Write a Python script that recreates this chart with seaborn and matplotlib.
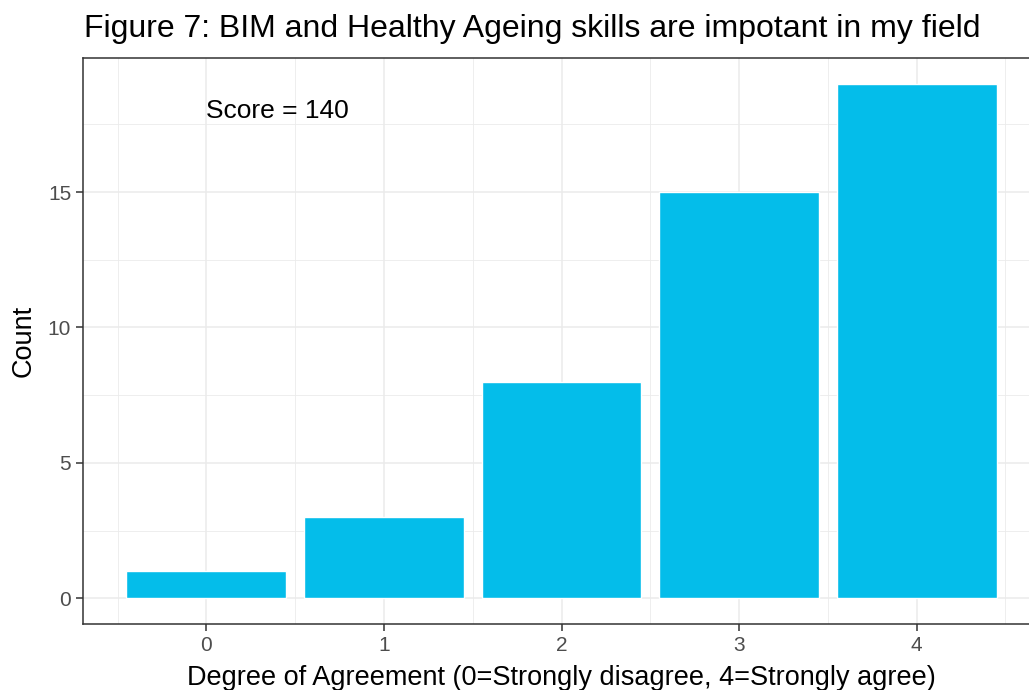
import matplotlib
matplotlib.use("Agg")
import matplotlib.pyplot as plt
import seaborn as sns
from matplotlib.ticker import MultipleLocator

# Dados
graus = [0, 1, 2, 3, 4]
contagens = [1, 3, 8, 15, 19]
rotulos_x = ["0", "1", "2", "3", "4"]
titulo = "Figure 7: BIM and Healthy Ageing skills are impotant in my field"
texto_score = "Score = 140"

sns.set_theme(style="white")
plt.rcParams["font.family"] = ["Liberation Sans", "DejaVu Sans"]

fig = plt.figure(figsize=(10.29, 6.9), dpi=100)
# painel estende um pouco além da borda direita, como na imagem original
ax = fig.add_axes([83 / 1029, 66 / 690, 957 / 1029, 566 / 690])

sns.barplot(x=graus, y=contagens, color="#04BDEA", saturation=1, width=0.9, ax=ax, zorder=2)

ax.set_xlim(-0.695, 4.695)
ax.set_ylim(-0.95, 19.95)
ax.set_xticks(range(len(rotulos_x)))
ax.set_xticklabels(rotulos_x)
ax.xaxis.set_minor_locator(MultipleLocator(1, offset=0.5))
ax.yaxis.set_major_locator(MultipleLocator(5))
ax.yaxis.set_minor_locator(MultipleLocator(2.5))

ax.grid(which="major", color="#ebebeb", linewidth=1.1, zorder=0)
ax.grid(which="minor", color="#ebebeb", linewidth=0.6, zorder=0)
ax.set_axisbelow(True)
for s in ax.spines.values():
    s.set_color("#333333")
    s.set_linewidth(1.1)

ax.tick_params(which="major", length=5, width=1.1, color="#333333",
               labelsize=15, labelcolor="#4d4d4d", pad=3.5,
               bottom=True, left=True)
ax.tick_params(which="minor", length=0)
ax.set_xlabel("")
ax.set_ylabel("")

ax.text(0.4, 18, texto_score, ha="center", va="center", fontsize=19, color="black")

fig.text(84 / 1029, 1 - 37.5 / 690, titulo, ha="left", va="baseline", fontsize=23, color="black")
fig.text(561.5 / 1029, 5 / 690, "Degree of Agreement (0=Strongly disagree, 4=Strongly agree)",
         ha="center", va="baseline", fontsize=19.5, color="black")
fig.text(24 / 1029, 1 - 341 / 690, "Count", rotation=90, ha="center", va="center",
         fontsize=19.5, color="black")

fig.savefig("out.png", dpi=100)
